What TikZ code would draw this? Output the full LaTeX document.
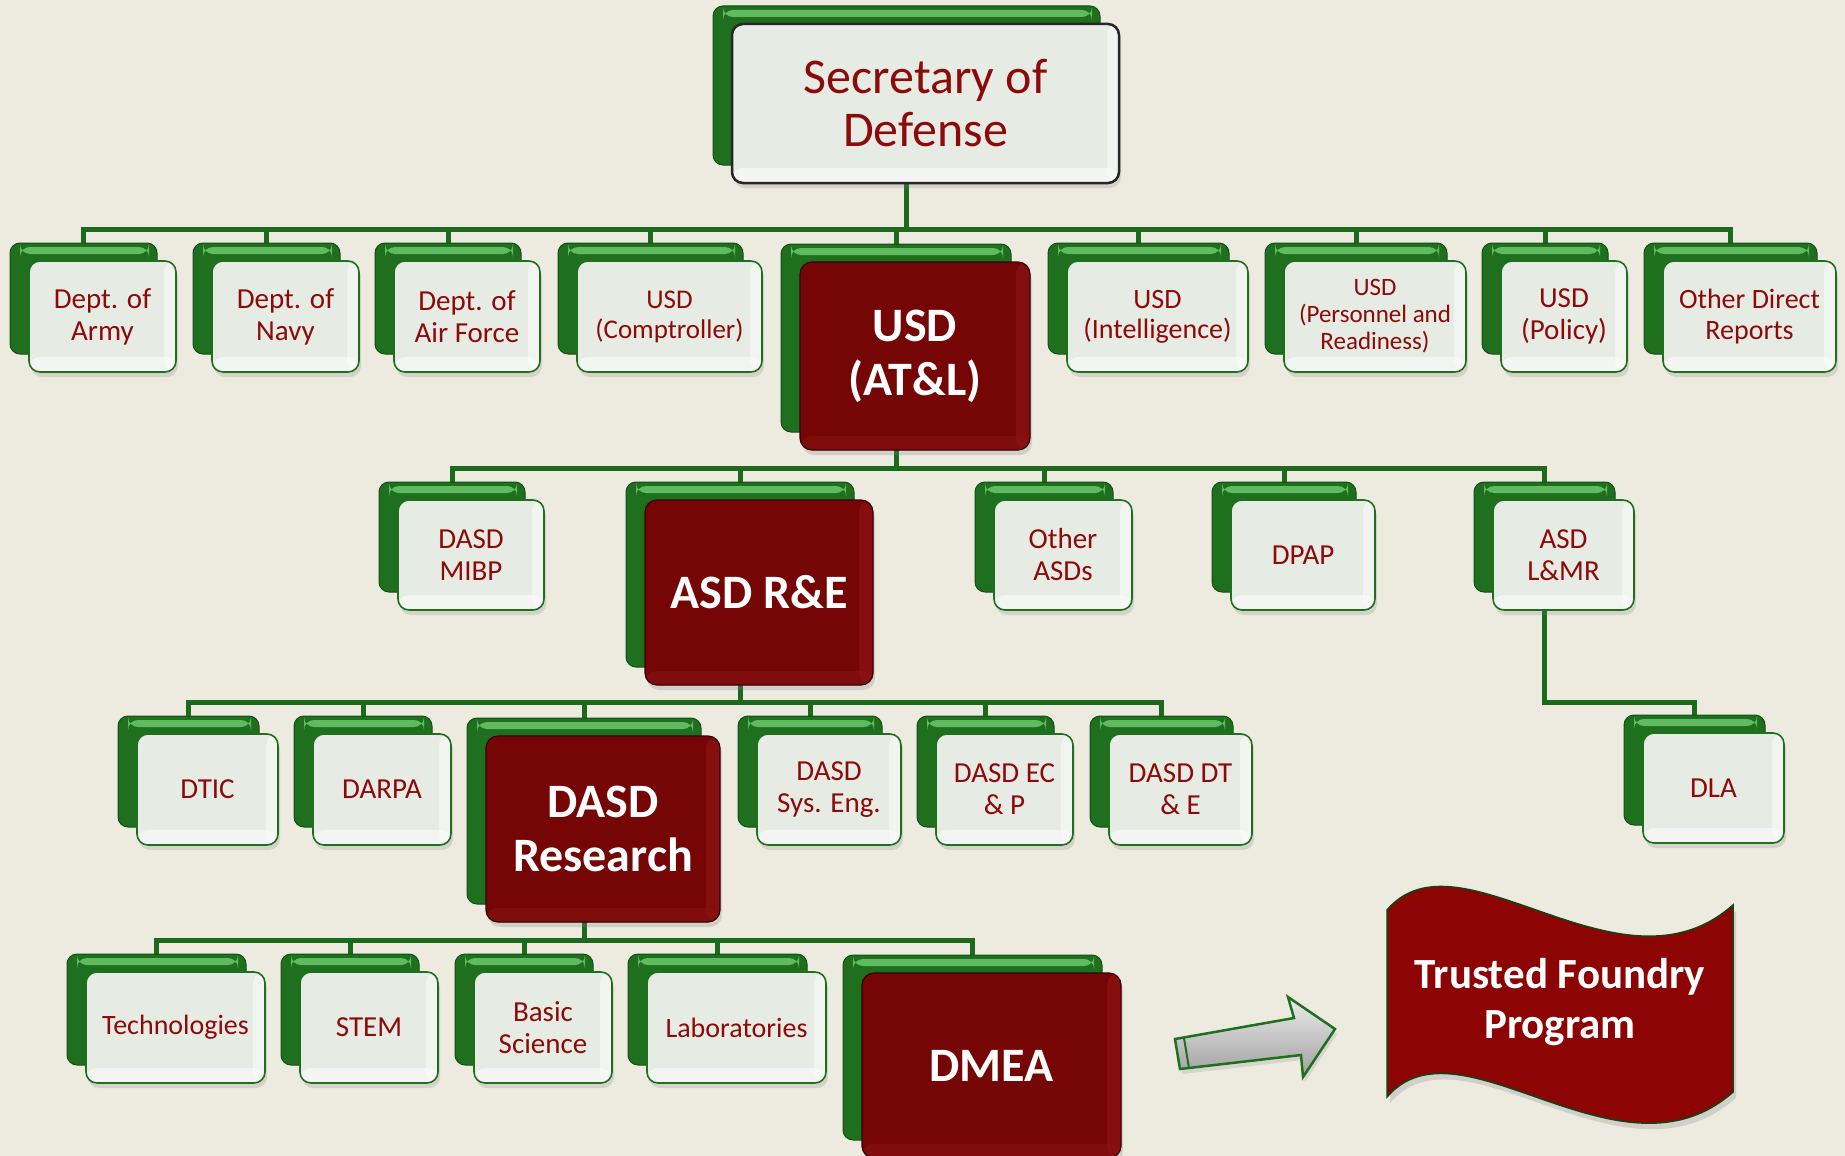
\documentclass[tikz,border=0pt]{standalone}
\usepackage{fontspec}
\setmainfont{Carlito}
\usetikzlibrary{shadows}
\definecolor{bgc}{HTML}{EDEAE0}
\definecolor{txtred}{HTML}{8C0A0A}
\definecolor{boxred}{HTML}{760505}
\definecolor{boxredlt}{HTML}{8C1414}
\definecolor{bannerred}{HTML}{8C0404}
\definecolor{gdark}{HTML}{1E701E}
\definecolor{glight}{HTML}{6CC86C}
\definecolor{wfill}{HTML}{E6EBE3}
\definecolor{busc}{HTML}{1C6A1C}
\pgfdeclarelayer{bg}
\pgfdeclarelayer{lines}
\pgfsetlayers{bg,lines,main}
\tikzset{
  backbox/.style={draw=gdark!70!black, line width=1pt, fill=gdark, rounded corners=10pt, inner sep=0pt,
    path picture={\fill[glight,opacity=.85] ([xshift=10pt,yshift=-4pt]path picture bounding box.north west) rectangle ([xshift=-8pt,yshift=-11pt]path picture bounding box.north east);}},
  wbox/.style={draw=gdark, line width=1.6pt, fill=wfill, rounded corners=11pt, inner sep=0pt, align=center,
    text=txtred, font=\fontsize{29}{32}\selectfont,
    drop shadow={shadow xshift=2pt, shadow yshift=-5pt, opacity=.22},
    path picture={\fill[white,opacity=.55] ([yshift=15pt]path picture bounding box.south west) rectangle (path picture bounding box.south east);
      \fill[white,opacity=.45] ([xshift=-12pt]path picture bounding box.north east) rectangle (path picture bounding box.south east);}},
  rbox/.style={draw=black!55!boxred, line width=1.2pt, fill=boxred, rounded corners=12pt, inner sep=0pt, align=center,
    text=white, font=\bfseries\fontsize{48}{54}\selectfont,
    drop shadow={shadow xshift=2pt, shadow yshift=-5pt, opacity=.25},
    path picture={\fill[boxredlt,opacity=.7] ([xshift=-14pt]path picture bounding box.north east) rectangle (path picture bounding box.south east);
      \fill[boxredlt,opacity=.5] ([yshift=14pt]path picture bounding box.south west) rectangle (path picture bounding box.south east);}},
  conn/.style={draw=busc, line width=5pt, line cap=rect},
}
\newcommand\obox[7]{%
  \node[backbox, minimum width={(#4)-(#2)}, minimum height={(#5)-(#3)}] (#1-b) at ({(#2+#4)/2-19},{(#3+#5)/2-18}) {};
  \node[#6, minimum width={(#4)-(#2)}, minimum height={(#5)-(#3)}] (#1) at ({(#2+#4)/2},{(#3+#5)/2}) {#7};
}
\begin{document}
\begin{tikzpicture}[x=1pt,y=-1pt]
\useasboundingbox (0,0) rectangle (1845,1156);
\begin{pgfonlayer}{bg}
  \fill[bgc] (0,0) rectangle (1845,1156);
\end{pgfonlayer}

% top
\obox{secdef}{732}{24}{1119}{183}{wbox,draw=black!85,line width=2.5pt,font=\fontsize{50}{53}\selectfont}{Secretary of\\Defense}

% row 1
\obox{army}{29}{261}{176}{372}{wbox}{Dept. of\\Army}
\obox{navy}{212}{261}{359}{372}{wbox}{Dept. of\\Navy}
\obox{airforce}{394}{261}{540}{372}{wbox}{Dept. of\\Air Force}
\obox{comptroller}{577}{261}{762}{372}{wbox,font=\fontsize{27}{30}\selectfont}{USD\\(Comptroller)}
\obox{usdatl}{800}{262}{1030}{450}{rbox}{USD\\(AT\&L)}
\obox{intel}{1067}{261}{1248}{372}{wbox,font=\fontsize{28}{30}\selectfont}{USD\\(Intelligence)}
\obox{pers}{1284}{261}{1466}{372}{wbox,font=\fontsize{25}{27}\selectfont}{USD\\(Personnel and\\Readiness)}
\obox{policy}{1501}{261}{1627}{372}{wbox}{USD\\(Policy)}
\obox{other}{1663}{261}{1836}{372}{wbox,font=\fontsize{28}{31}\selectfont}{Other Direct\\Reports}

% row 2
\obox{mibp}{398}{500}{544}{610}{wbox}{DASD\\MIBP}
\obox{asdre}{645}{500}{873}{685}{rbox}{ASD R\&E}
\obox{otherasd}{994}{500}{1132}{610}{wbox}{Other\\ASDs}
\obox{dpap}{1231}{500}{1375}{610}{wbox}{DPAP}
\obox{lmr}{1493}{500}{1634}{610}{wbox}{ASD\\L\&MR}

% row 3
\obox{dtic}{137}{734}{278}{845}{wbox}{DTIC}
\obox{darpa}{313}{734}{451}{845}{wbox}{DARPA}
\obox{dasdr}{486}{736}{720}{922}{rbox}{DASD\\Research}
\obox{syseng}{757}{734}{901}{845}{wbox}{DASD\\Sys. Eng.}
\obox{ecp}{936}{734}{1073}{845}{wbox}{DASD EC\\\& P}
\obox{dte}{1109}{734}{1252}{845}{wbox}{DASD DT\\\& E}
\obox{dla}{1643}{733}{1784}{843}{wbox}{DLA}

% row 4
\obox{tech}{86}{972}{265}{1083}{wbox,font=\fontsize{28}{31}\selectfont}{Technologies}
\obox{stem}{300}{972}{438}{1083}{wbox}{STEM}
\obox{basic}{474}{972}{612}{1083}{wbox}{Basic\\Science}
\obox{labs}{647}{972}{826}{1083}{wbox,font=\fontsize{28}{31}\selectfont}{Laboratories}
\obox{dmea}{862}{973}{1121}{1158}{rbox}{DMEA}

% bus levels
\coordinate (bus1) at (0,229);
\coordinate (bus2) at (0,468);
\coordinate (bus3) at (0,702);
\coordinate (bus4) at (0,940);

\begin{pgfonlayer}{lines}
  \draw[conn] (secdef-b.center) -- (secdef-b.center |- bus1);
  \draw[conn] (army-b.north |- bus1) -- (other-b.north |- bus1);
  \foreach \n in {army,navy,airforce,comptroller,usdatl,intel,pers,policy,other}
    \draw[conn] (\n-b.north |- bus1) -- (\n-b.north);

  \draw[conn] (usdatl-b.center) -- (usdatl-b.center |- bus2);
  \draw[conn] (mibp-b.north |- bus2) -- (lmr-b.north |- bus2);
  \foreach \n in {mibp,asdre,otherasd,dpap,lmr}
    \draw[conn] (\n-b.north |- bus2) -- (\n-b.north);

  \draw[conn] (asdre-b.center) -- (asdre-b.center |- bus3);
  \draw[conn] (dtic-b.north |- bus3) -- (dte-b.north |- bus3);
  \foreach \n in {dtic,darpa,dasdr,syseng,ecp,dte}
    \draw[conn] (\n-b.north |- bus3) -- (\n-b.north);

  \draw[conn,line cap=butt] (lmr-b.center) -- (lmr-b.center |- bus3) -| (dla-b.north);

  \draw[conn] (dasdr-b.center) -- (dasdr-b.center |- bus4);
  \draw[conn] (tech-b.north |- bus4) -- (dmea-b.north |- bus4);
  \foreach \n in {tech,stem,basic,labs,dmea}
    \draw[conn] (\n-b.north |- bus4) -- (\n-b.north);
\end{pgfonlayer}

% arrow
\shade[top color=gray!15, bottom color=gray!75, draw=gdark, line width=2.5pt, line join=miter,
  drop shadow={shadow xshift=2pt, shadow yshift=-5pt, opacity=.2}]
  (1175,1039) -- (1294,1018) -- (1288,997) -- (1335,1029) -- (1303,1077) -- (1301,1055) -- (1180,1069) -- cycle;
\draw[gdark, line width=2pt] (1184,1038) -- (1189,1068);

% banner
\path[fill=bannerred, draw=gdark!60!black, line width=1.5pt,
  drop shadow={shadow xshift=3pt, shadow yshift=-6pt, opacity=.25}]
  (1387,910) .. controls (1460,825) and (1620,1005) .. (1733,905)
  -- (1733,1092) .. controls (1620,1192) and (1460,1012) .. (1387,1097) -- cycle;
\node[text=white, font=\bfseries\fontsize{43}{50}\selectfont, align=center] (tfp) at (1560,1002) {Trusted Foundry\\Program};
\end{tikzpicture}
\end{document}
